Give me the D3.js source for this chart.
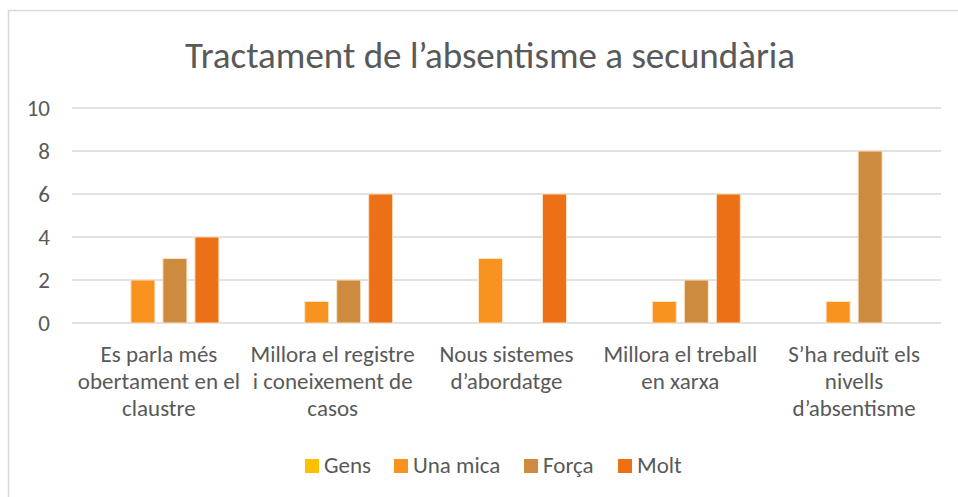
<!DOCTYPE html>
<html lang="ca">
<head>
<meta charset="UTF-8">
<title>Tractament de l'absentisme a secundària</title>
<script src="https://cdnjs.cloudflare.com/ajax/libs/d3/7.8.5/d3.min.js"></script>
<style>
    body { margin: 0; background: #fff; }
    svg { display: block; font-family: Carlito, "Liberation Sans Narrow", "Open Sans", sans-serif; }
</style>
</head>
<body>
<svg id="chart" width="958" height="497"></svg>
<script>
    const categories = [
        ["Es parla més", "obertament en el", "claustre"],
        ["Millora el registre", "i coneixement de", "casos"],
        ["Nous sistemes", "d’abordatge"],
        ["Millora el treball", "en xarxa"],
        ["S’ha reduït els", "nivells", "d’absentisme"]
    ];
    const seriesNames = ["Gens", "Una mica", "Força", "Molt"];
    const gens = [0, 0, 0, 0, 0];
    const unaMica = [2, 1, 3, 1, 1];
    const forca = [3, 2, 0, 2, 8];
    const molt = [4, 6, 6, 6, 0];
    const colors = ["#FFC000", "#F7931E", "#CD8B3F", "#EB7016"];
    const yTicks = [0, 2, 4, 6, 8, 10];

    const seriesValues = [gens, unaMica, forca, molt];
    const svg = d3.select("#chart");

    // chart frame
    svg.append("rect")
        .attr("x", 8.5).attr("y", 10.5)
        .attr("width", 960).attr("height", 500)
        .attr("fill", "none").attr("stroke", "#D9D9D9").attr("stroke-width", 1.5);

    svg.append("text")
        .attr("x", 490).attr("y", 68)
        .attr("text-anchor", "middle")
        .attr("font-size", 37)
        .attr("fill", "#595959")
        .text("Tractament de l’absentisme a secundària");

    const plotLeft = 72, plotRight = 941, plotTop = 108, plotBottom = 323;

    const x0 = d3.scaleBand()
        .domain(d3.range(categories.length))
        .range([plotLeft, plotRight]);

    const x1 = d3.scaleBand()
        .domain(seriesNames)
        .range([0, 120])
        .paddingInner(0.25);

    const y = d3.scaleLinear().domain([0, 10]).range([plotBottom, plotTop]);

    // gridlines
    svg.append("g")
        .selectAll("line")
        .data(yTicks)
        .join("line")
        .attr("x1", plotLeft).attr("x2", plotRight)
        .attr("y1", d => y(d)).attr("y2", d => y(d))
        .attr("stroke", "#D9D9D9").attr("stroke-width", 1.5);

    // y labels
    svg.append("g")
        .selectAll("text")
        .data(yTicks)
        .join("text")
        .attr("x", 50)
        .attr("y", d => y(d) + 8)
        .attr("text-anchor", "end")
        .attr("font-size", 23)
        .attr("fill", "#595959")
        .text(d => d);

    // bars
    const groups = svg.append("g")
        .selectAll("g")
        .data(categories.map((c, i) => i))
        .join("g")
        .attr("transform", i => `translate(${x0(i) + x0.bandwidth() / 2 - 60},0)`);

    groups.selectAll("rect")
        .data(i => seriesNames.map((s, j) => ({ s, j, v: seriesValues[j][i] })))
        .join("rect")
        .filter(d => d.v > 0)
        .attr("x", d => x1(d.s))
        .attr("width", x1.bandwidth())
        .attr("y", d => y(d.v))
        .attr("height", d => y(0) - y(d.v))
        .attr("fill", d => colors[d.j])
        .attr("stroke", "#FBE3C8")
        .attr("stroke-width", 1);

    // category labels
    svg.append("g")
        .selectAll("text")
        .data(categories)
        .join("text")
        .attr("text-anchor", "middle")
        .attr("font-size", 23)
        .attr("fill", "#595959")
        .each(function (lines, i) {
            d3.select(this).selectAll("tspan")
                .data(lines)
                .join("tspan")
                .attr("x", x0(i) + x0.bandwidth() / 2)
                .attr("y", (d, k) => 362 + k * 27)
                .text(d => d);
        });

    // legend
    const legendX = [305, 394, 524, 618];
    const legend = svg.append("g")
        .selectAll("g")
        .data(seriesNames)
        .join("g")
        .attr("transform", (d, i) => `translate(${legendX[i]},459)`);
    legend.append("rect")
        .attr("width", 14).attr("height", 14)
        .attr("fill", (d, i) => colors[i]);
    legend.append("text")
        .attr("x", 19).attr("y", 14)
        .attr("font-size", 23)
        .attr("fill", "#595959")
        .text(d => d);
</script>
</body>
</html>
